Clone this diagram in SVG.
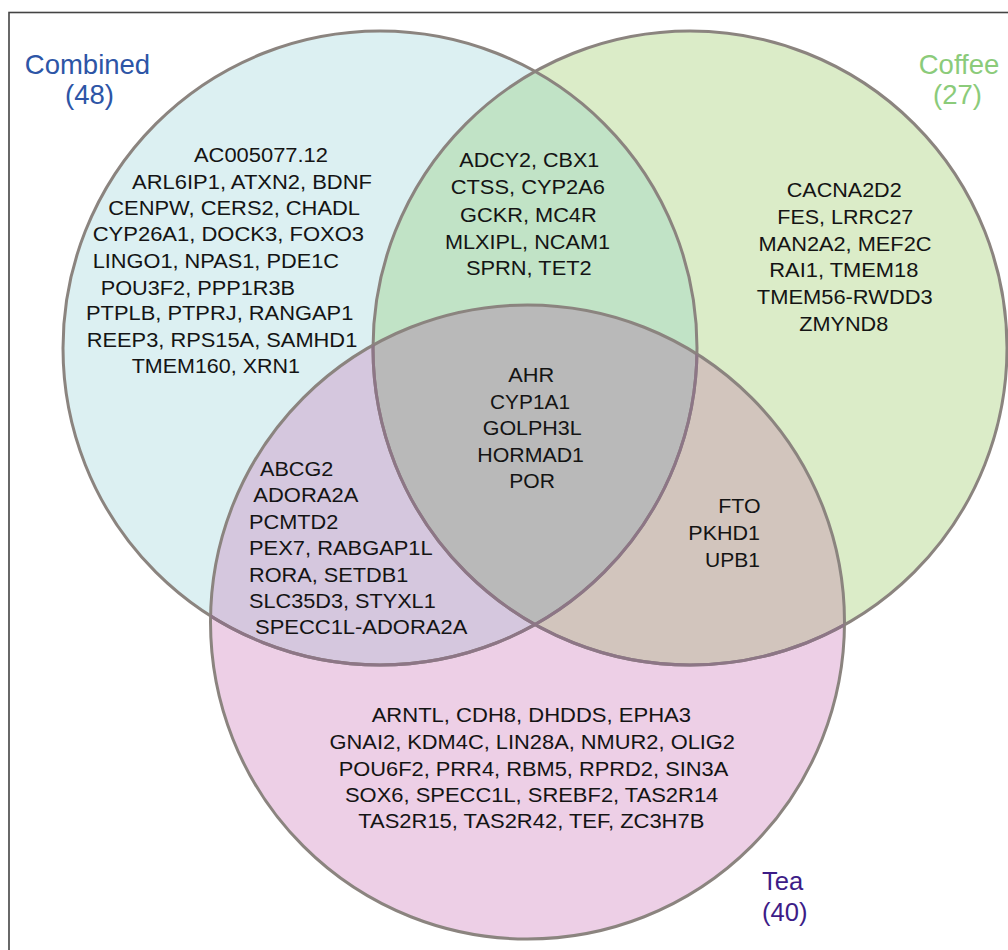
<svg xmlns="http://www.w3.org/2000/svg" width="1008" height="950" viewBox="0 0 1008 950">
<style>
.g{font-family:"Liberation Sans",Arial,sans-serif;font-size:19.5px;fill:#141414}
.lab{font-family:"Liberation Sans",Arial,sans-serif}
.ring{fill:none;stroke:#8b847f;stroke-width:3}
.ringT{fill:none;stroke:#8d7686;stroke-width:3}
</style>
<defs>
<clipPath id="clipComb"><circle cx="380" cy="348" r="317"/></clipPath>
<clipPath id="clipCof"><circle cx="690" cy="348" r="317"/></clipPath>
<clipPath id="clipTea"><circle cx="527.5" cy="622" r="317"/></clipPath>
</defs>
<rect x="0" y="0" width="1008" height="950" fill="#ffffff"/>
<rect x="9" y="12.5" width="1020" height="960" fill="none" stroke="#444444" stroke-width="1.6"/>

<g id="set-fills">
<circle cx="380" cy="348" r="317" fill="#dcf0f2"/>
<circle cx="690" cy="348" r="317" fill="#dbecc8"/>
<circle cx="527.5" cy="622" r="317" fill="#edcfe6"/>
<circle cx="380" cy="348" r="317" fill="#c1e3c6" clip-path="url(#clipCof)"/>
<circle cx="380" cy="348" r="317" fill="#d5c7de" clip-path="url(#clipTea)"/>
<circle cx="690" cy="348" r="317" fill="#d2c5bd" clip-path="url(#clipTea)"/>
<g clip-path="url(#clipTea)"><circle cx="380" cy="348" r="317" fill="#b9b9b9" clip-path="url(#clipCof)"/></g>
</g>

<g id="set-outlines">
<circle class="ring" cx="380" cy="348" r="317"/>
<circle class="ring" cx="690" cy="348" r="317"/>
<circle class="ring" cx="527.5" cy="622" r="317"/>
<g clip-path="url(#clipTea)">
<circle class="ringT" cx="380" cy="348" r="317"/>
<circle class="ringT" cx="690" cy="348" r="317"/>
</g>
</g>

<g id="label-combined" class="lab" fill="#2d55a6" font-size="27.5" text-anchor="middle">
<text x="87.5" y="74">Combined</text>
<text x="89.5" y="104">(48)</text>
</g>
<g id="label-coffee" class="lab" fill="#8bcb7a" font-size="27.5" text-anchor="middle">
<text x="959" y="74">Coffee</text>
<text x="957.5" y="104">(27)</text>
</g>
<g id="label-tea" class="lab" fill="#3d1c87" font-size="25.6">
<text x="762" y="890">Tea</text>
<text x="762" y="920.5">(40)</text>
</g>

<g id="region-combined-only" class="g">
<text x="194" y="162.3" textLength="134" lengthAdjust="spacingAndGlyphs">AC005077.12</text>
<text x="132" y="189" textLength="240" lengthAdjust="spacingAndGlyphs">ARL6IP1, ATXN2, BDNF</text>
<text x="108.3" y="215.3" textLength="251.7" lengthAdjust="spacingAndGlyphs">CENPW, CERS2, CHADL</text>
<text x="92.7" y="241" textLength="271.3" lengthAdjust="spacingAndGlyphs">CYP26A1, DOCK3, FOXO3</text>
<text x="92.7" y="268" textLength="246.3" lengthAdjust="spacingAndGlyphs">LINGO1, NPAS1, PDE1C</text>
<text x="100.7" y="294.5" textLength="194.3" lengthAdjust="spacingAndGlyphs">POU3F2, PPP1R3B</text>
<text x="86" y="320.3" textLength="267.3" lengthAdjust="spacingAndGlyphs">PTPLB, PTPRJ, RANGAP1</text>
<text x="86.7" y="346.7" textLength="270.6" lengthAdjust="spacingAndGlyphs">REEP3, RPS15A, SAMHD1</text>
<text x="131.7" y="373.3" textLength="168.3" lengthAdjust="spacingAndGlyphs">TMEM160, XRN1</text>
</g>

<g id="region-combined-coffee" class="g">
<text x="459.3" y="167.3" textLength="140" lengthAdjust="spacingAndGlyphs">ADCY2, CBX1</text>
<text x="450.7" y="194.3" textLength="154.3" lengthAdjust="spacingAndGlyphs">CTSS, CYP2A6</text>
<text x="460" y="221.5" textLength="136.7" lengthAdjust="spacingAndGlyphs">GCKR, MC4R</text>
<text x="445" y="248.7" textLength="165" lengthAdjust="spacingAndGlyphs">MLXIPL, NCAM1</text>
<text x="466" y="275" textLength="125.7" lengthAdjust="spacingAndGlyphs">SPRN, TET2</text>
</g>

<g id="region-coffee-only" class="g">
<text x="786.7" y="197.3" textLength="115" lengthAdjust="spacingAndGlyphs">CACNA2D2</text>
<text x="777.3" y="224" textLength="136" lengthAdjust="spacingAndGlyphs">FES, LRRC27</text>
<text x="758.5" y="250.7" textLength="173" lengthAdjust="spacingAndGlyphs">MAN2A2, MEF2C</text>
<text x="769.3" y="277.3" textLength="149" lengthAdjust="spacingAndGlyphs">RAI1, TMEM18</text>
<text x="756.8" y="304" textLength="175.9" lengthAdjust="spacingAndGlyphs">TMEM56-RWDD3</text>
<text x="799.3" y="330.7" textLength="89" lengthAdjust="spacingAndGlyphs">ZMYND8</text>
</g>

<g id="region-all-three" class="g">
<text x="508.3" y="382.3" textLength="46" lengthAdjust="spacingAndGlyphs">AHR</text>
<text x="490" y="409" textLength="80" lengthAdjust="spacingAndGlyphs">CYP1A1</text>
<text x="482.7" y="435.3" textLength="99" lengthAdjust="spacingAndGlyphs">GOLPH3L</text>
<text x="477.3" y="461.7" textLength="106.7" lengthAdjust="spacingAndGlyphs">HORMAD1</text>
<text x="509.3" y="488" textLength="45.7" lengthAdjust="spacingAndGlyphs">POR</text>
</g>

<g id="region-combined-tea" class="g">
<text x="260" y="476" textLength="73.3" lengthAdjust="spacingAndGlyphs">ABCG2</text>
<text x="253.3" y="502.3" textLength="105" lengthAdjust="spacingAndGlyphs">ADORA2A</text>
<text x="249" y="529" textLength="89.3" lengthAdjust="spacingAndGlyphs">PCMTD2</text>
<text x="249" y="555.3" textLength="183.7" lengthAdjust="spacingAndGlyphs">PEX7, RABGAP1L</text>
<text x="249" y="581.7" textLength="159.3" lengthAdjust="spacingAndGlyphs">RORA, SETDB1</text>
<text x="249" y="608" textLength="186.7" lengthAdjust="spacingAndGlyphs">SLC35D3, STYXL1</text>
<text x="255" y="634.3" textLength="212.3" lengthAdjust="spacingAndGlyphs">SPECC1L-ADORA2A</text>
</g>

<g id="region-coffee-tea" class="g">
<text x="718.3" y="513.3" textLength="42.3" lengthAdjust="spacingAndGlyphs">FTO</text>
<text x="688.3" y="540" textLength="71.7" lengthAdjust="spacingAndGlyphs">PKHD1</text>
<text x="705" y="566.7" textLength="55" lengthAdjust="spacingAndGlyphs">UPB1</text>
</g>

<g id="region-tea-only" class="g">
<text x="371.7" y="722.3" textLength="319.3" lengthAdjust="spacingAndGlyphs">ARNTL, CDH8, DHDDS, EPHA3</text>
<text x="329.6" y="749.3" textLength="405.4" lengthAdjust="spacingAndGlyphs">GNAI2, KDM4C, LIN28A, NMUR2, OLIG2</text>
<text x="338.7" y="775.7" textLength="389.6" lengthAdjust="spacingAndGlyphs">POU6F2, PRR4, RBM5, RPRD2, SIN3A</text>
<text x="345" y="801.7" textLength="373.3" lengthAdjust="spacingAndGlyphs">SOX6, SPECC1L, SREBF2, TAS2R14</text>
<text x="358.3" y="827.7" textLength="346" lengthAdjust="spacingAndGlyphs">TAS2R15, TAS2R42, TEF, ZC3H7B</text>
</g>
</svg>
